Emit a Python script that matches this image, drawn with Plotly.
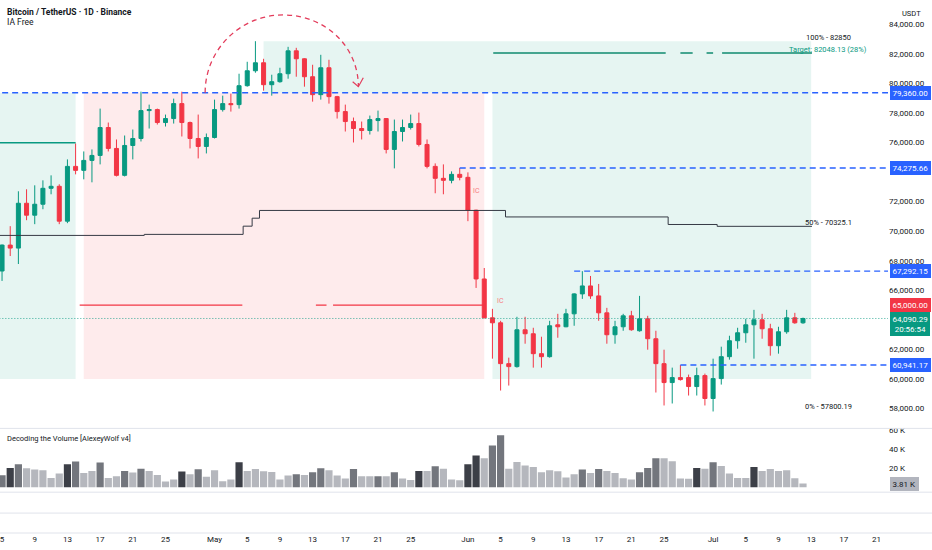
import pandas as pd
import plotly.graph_objects as go

# ---------------- data ----------------
base = pd.Timestamp("2024-04-01")
dates = pd.date_range("2024-04-05", "2024-07-12", freq="D")
xd = [(d - base).days for d in dates]

opens = [67304, 69056, 68854, 71887, 71078, 71820, 72898, 73033, 70674, 74381,
         74111, 74785, 75122, 77010, 75594, 73774, 75796, 76268, 78155, 78223,
         77347, 77616, 78627, 77347, 76268, 75729, 76335, 78223, 78627, 78560,
         79840, 80851, 81391, 79908, 80110, 80649, 82199, 81660, 80447, 79234,
         81054, 79099, 78088, 77414, 76942, 76807, 77481, 77616, 75527, 76740,
         77010, 77279, 75864, 74381, 73572, 73437, 73842, 73640, 71415, 66765,
         64136, 63799, 61036, 60834, 63327, 63058, 61710, 61508, 63664, 63530,
         64406, 65754, 66293, 65619, 64473, 62991, 63530, 64271, 63260, 64069,
         62721, 61036, 59755, 60092, 60092, 59486, 60227, 58677, 60025, 61508,
         62586, 63125, 63664, 64001, 63395, 62249, 63193, 64136, 63799]
highs = [69100, 70337, 72696, 72831, 73100, 73437, 73774, 73168, 74853, 75931,
         75392, 75527, 78290, 77347, 76201, 76470, 76875, 79436, 78560, 78290,
         77886, 78964, 79436, 77414, 77886, 76605, 78897, 79166, 79301, 80649,
         81458, 82850, 81660, 80582, 81054, 82469, 82402, 81700, 81256, 81930,
         81593, 79150, 78560, 77684, 77414, 77818, 78155, 77650, 77549, 77549,
         77886, 78020, 76201, 74583, 74516, 74044, 74275.66, 73977, 71450, 67506,
         64743, 63934, 61440, 64204, 64204, 63462, 62856, 63934, 64406, 64743,
         65800, 67292.15, 66967, 66428, 64810, 63934, 64406, 64608, 65619, 64271,
         63260, 61979, 60766, 60941.17, 60294, 60766, 60362, 61373, 62182, 62923,
         63462, 64069, 64675, 64406, 63732, 63530, 64675, 64473, 64150]
lows = [66630, 68315, 67776, 70741, 70472, 71483, 72494, 70472, 70539, 73842,
        73505, 73303, 74516, 75392, 73700, 73700, 74853, 76066, 76942, 77212,
        77077, 77279, 76403, 75594, 74920, 75257, 76268, 78088, 78088, 78290,
        79773, 80717, 79503, 79166, 80042, 80312, 80447, 79773, 78762, 78897,
        78627, 77616, 76740, 75999, 76201, 76538, 76740, 75257, 74246, 76066,
        76875, 75729, 74246, 72561, 72494, 73235, 73437, 70674, 66158, 64100,
        61373, 59216, 59553, 60766, 62384, 60766, 60766, 61440, 62788, 63500,
        63597, 65417, 65417, 63934, 62384, 62384, 63260, 63260, 63200, 61979,
        59081, 58205, 58340, 59890, 58879, 58879, 58205, 57800.19, 59620, 61306,
        62047, 62451, 61373, 62721, 61575, 61710, 63058, 63732, 63732]
closes = [69056, 68854, 71887, 71078, 71820, 72898, 73033, 70674, 74381, 74111,
          74785, 75122, 77010, 75594, 73774, 75796, 76268, 78155, 78223, 77347,
          77616, 78627, 77347, 76268, 75729, 76335, 78223, 78627, 78560, 79840,
          80851, 81391, 79908, 80110, 80649, 82199, 81660, 80447, 79234, 81054,
          79099, 78088, 77414, 76942, 76807, 77549, 77616, 75527, 76740, 77010,
          77279, 75864, 74381, 73572, 73437, 73842, 73640, 71415, 66765, 64136,
          63799, 61036, 60834, 63327, 63058, 61710, 61508, 63597, 63530, 64406,
          65754, 66293, 65619, 64473, 62991, 63530, 64271, 63327, 64069, 62721,
          61036, 59755, 60092, 59957, 59486, 60227, 58677, 60025, 61508, 62586,
          63125, 63664, 64001, 63395, 62249, 63193, 64136, 63799, 64090.29]

volumes_k = [12.6, 20.3, 24.2, 20.0, 18.6, 17.9, 9.8, 14.4, 24.2, 27.0,
             15.0, 17.2, 26.0, 9.8, 11.6, 17.2, 15.4, 19.6, 17.2, 13.0,
             6.0, 8.1, 16.5, 13.7, 19.0, 10.9, 17.9, 6.3, 8.1, 26.3,
             17.2, 19.3, 16.8, 16.1, 8.1, 12.3, 13.7, 13.0, 15.8, 20.0,
             17.9, 12.3, 9.1, 19.3, 11.6, 11.6, 11.6, 11.6, 15.8, 9.1,
             7.7, 17.2, 17.2, 22.1, 19.6, 8.1, 7.4, 24.2, 33.4, 30.5,
             43.9, 54.8, 19.6, 26.7, 22.8, 21.4, 15.8, 17.9, 16.8, 10.2,
             13.7, 18.6, 15.0, 19.3, 17.2, 15.0, 9.5, 8.1, 15.8, 20.3,
             30.5, 30.5, 27.4, 9.1, 8.8, 20.3, 19.6, 26.3, 22.5, 14.4,
             9.8, 9.8, 21.4, 17.2, 19.3, 17.2, 17.9, 9.5, 3.81]
volume_shades = list("MDMLLLLLDM" "LLMLLMLMLL" "LLDLMLLLLD" "LLLLLLMLMM"
                     "LLLMLLMLML" "LDLMLLLDDL" "MMLLLLLLLL" "LMLMLLLLMM"
                     "MLLLLDLMLL" "LLDLLLLLL")

tick_dates = ["2024-04-05", "2024-04-09", "2024-04-13", "2024-04-17", "2024-04-21",
              "2024-04-25", "2024-05-01", "2024-05-05", "2024-05-09", "2024-05-13",
              "2024-05-17", "2024-05-21", "2024-05-25", "2024-06-01", "2024-06-05",
              "2024-06-09", "2024-06-13", "2024-06-17", "2024-06-21", "2024-06-25",
              "2024-07-01", "2024-07-05", "2024-07-09", "2024-07-13", "2024-07-17",
              "2024-07-21"]
tick_labels = ["5", "9", "13", "17", "21", "25", "May", "5", "9", "13", "17", "21",
               "25", "Jun", "5", "9", "13", "17", "21", "25", "Jul", "5", "9", "13",
               "17", "21"]
tick_x = [(pd.Timestamp(t) - base).days for t in tick_dates]

# 74,000 and 64,000 sit under highlighted price labels, as in the reference
price_ticks = [58000, 60000, 62000, 66000, 68000, 70000, 72000, 76000, 78000,
               80000, 82000, 84000]

# levels
level_blue = [79360.00, 74275.66, 67292.15, 60941.17]
level_blue_start = ["2024-03-25", "2024-05-31", "2024-06-14", "2024-06-27"]
level_red = 65000.00
level_green_left = 75980
target_level = 82048.13
last_price = 64090.29
mid_dates_x = [0, 21.4, 33.5, 34.6, 35.5, 65.6, 85.5, 91.5, 103.1]
mid_values = [69710, 69780, 70337, 70876, 71400, 70960, 70450, 70325.1, 70325.1]

# zones (x in day index, y in price)
zone_top, zone_bottom, zone_high = 79360, 60000, 82850

GREEN = "#089981"
RED = "#f23645"
BLUE = "#2962ff"
TXT = "#131722"
FONT = "Roboto, 'Noto Sans', sans-serif"
shade_color = {"L": "#b5b7bd", "M": "#73767d", "D": "#3c3f47"}

X0, X1 = 3.75, 112.4
Y0, Y1 = 56655, 85502

fig = go.Figure()

# background zones
zones = [
    (-2, 13, zone_bottom, zone_top, "rgba(8,153,129,0.10)"),
    (14, 63, zone_bottom, zone_top, "rgba(242,54,69,0.10)"),
    (64, 103, zone_bottom, zone_top, "rgba(8,153,129,0.10)"),
    (36, 103, zone_top, zone_high, "rgba(8,153,129,0.10)"),
]
for a, b, lo, hi, col in zones:
    fig.add_shape(type="rect", xref="x", yref="y", x0=a, x1=b, y0=lo, y1=hi,
                  fillcolor=col, line_width=0, layer="below")

# green left line
fig.add_trace(go.Scatter(x=[0, 13], y=[level_green_left] * 2, mode="lines",
                         line=dict(color=GREEN, width=1.3), hoverinfo="skip"))
# red 65000 line segments
fig.add_trace(go.Scatter(x=[13.5, 33.4, None, 42.4, 43.7, None, 44.5, 63],
                         y=[level_red, level_red, None, level_red, level_red, None, level_red, level_red],
                         mode="lines", line=dict(color=RED, width=1.2), hoverinfo="skip"))
# target line segments
fig.add_trace(go.Scatter(x=[64.1, 85.2, None, 87, 88.5, None, 90.2, 91, None, 92.1, 103.1],
                         y=[target_level] * 2 + [None] + [target_level] * 2 + [None]
                           + [target_level] * 2 + [None] + [target_level] * 2,
                         mode="lines", line=dict(color="#0f8a6f", width=1.4), hoverinfo="skip"))
# mid step line
fig.add_trace(go.Scatter(x=mid_dates_x, y=mid_values, mode="lines", line_shape="hv",
                         line=dict(color="#363a45", width=1), hoverinfo="skip"))
# blue dashed levels
for lv, st in zip(level_blue, level_blue_start):
    sx = (pd.Timestamp(st) - base).days
    fig.add_trace(go.Scatter(x=[sx, 116], y=[lv, lv], mode="lines",
                             line=dict(color=BLUE, width=1.4, dash="6px,4px"), hoverinfo="skip"))
# last price dotted
fig.add_trace(go.Scatter(x=[0, 116], y=[last_price] * 2, mode="lines",
                         line=dict(color=GREEN, width=0.8, dash="1px,2px"), hoverinfo="skip"))

# candles
fig.add_trace(go.Candlestick(
    x=xd, open=opens, high=highs, low=lows, close=closes,
    increasing=dict(line=dict(color=GREEN, width=1), fillcolor=GREEN),
    decreasing=dict(line=dict(color=RED, width=1), fillcolor=RED),
    whiskerwidth=0, hoverinfo="skip", xaxis="x", yaxis="y"))

# volume
fig.add_trace(go.Bar(x=xd, y=volumes_k, marker=dict(color=[shade_color[s] for s in volume_shades],
                                                     line_width=0),
                     width=0.88, xaxis="x2", yaxis="y2", hoverinfo="skip"))

# curved arrow drawing
arc_path = ("M 28.85,79369 C 28.85,82267 33.13,84626 38.39,84626 "
            "C 43.6,84626 47.6,82469 47.6,79773")
fig.add_shape(type="path", xref="x", yref="y", path=arc_path,
              line=dict(color="#e33d5c", width=1.3, dash="5px,4px"))
fig.add_shape(type="path", xref="x", yref="y",
              path="M 46.9,80110 L 47.6,79773 L 48.2,80380",
              line=dict(color="#e33d5c", width=1.2))

# pane separators
for py in [0.197, 0.0769, 0.0375, 0.0]:
    fig.add_shape(type="line", xref="paper", yref="paper", x0=0, x1=1.05, y0=py, y1=py,
                  line=dict(color="#e0e3eb", width=1))

ann = []
# header
ann.append(dict(xref="paper", yref="paper", x=0.006, y=0.981, xanchor="left", yanchor="middle",
                text="<b>Bitcoin / TetherUS · 1D · Binance</b>", showarrow=False,
                font=dict(size=8.5, color=TXT)))
ann.append(dict(xref="paper", yref="paper", x=0.006, y=0.962, xanchor="left", yanchor="middle",
                text="IA Free", showarrow=False, font=dict(size=8.5, color=TXT)))
ann.append(dict(xref="paper", yref="paper", x=0.006, y=0.178, xanchor="left", yanchor="middle",
                text="Decoding the Volume [AlexeyWolf v4]", showarrow=False,
                font=dict(size=7.5, color=TXT)))
ann.append(dict(xref="paper", yref="paper", x=1, y=1, xanchor="left", yanchor="top",
                xshift=12, yshift=-5, text="USDT", showarrow=False, font=dict(size=7.5, color=TXT)))
# fib texts
ann += [
    dict(x=105.1, y=83075, text="100% - 82850", font=dict(size=7.5, color=TXT)),
    dict(x=105.1, y=82300, text="Target: 82048.13 (28%)", font=dict(size=7.5, color=GREEN)),
    dict(x=105.1, y=70607, text="50% - 70325.1", font=dict(size=7.5, color=TXT)),
    dict(x=105.1, y=58138, text="0% - 57800.19", font=dict(size=7.5, color=TXT)),
    dict(x=62.1, y=72696, text="IC", font=dict(size=7, color="#f77c80")),
    dict(x=64.95, y=65282, text="IC", font=dict(size=7, color="#f77c80")),
]
for a in ann[4:]:
    a.update(xref="x", yref="y", showarrow=False, xanchor="center", yanchor="middle")

# axis labels with backgrounds
def axis_label(y, text, bg, fg="white", yref="y", yanchor="middle", yshift=0):
    return dict(xref="paper", yref=yref, x=1, y=y, xanchor="left", yanchor=yanchor,
                xshift=2, yshift=yshift, text=text, showarrow=False, bgcolor=bg,
                bordercolor=bg, borderpad=1.5, font=dict(size=8, color=fg))

ann.append(axis_label(79360.00, "79,360.00", BLUE))
ann.append(axis_label(74275.66, "74,275.66", BLUE))
ann.append(axis_label(67292.15, "67,292.15", BLUE))
ann.append(axis_label(65000.00, "65,000.00", RED))
ann.append(axis_label(last_price, "64,090.29<br>20:56:54", GREEN, yanchor="top", yshift=6))
ann.append(axis_label(60941.17, "60,941.17", BLUE))
ann.append(axis_label(volumes_k[-1], "3.81 K", "#b2b5be", fg=TXT, yref="y2"))

fig.update_layout(
    width=932, height=550,
    margin=dict(l=0, r=44, t=0, b=17),
    paper_bgcolor="white", plot_bgcolor="white",
    showlegend=False, hovermode=False,
    font=dict(family=FONT, size=8, color=TXT),
    annotations=ann,
    xaxis=dict(domain=[0, 1], range=[X0, X1], anchor="y", showticklabels=False,
               showgrid=False, zeroline=False, rangeslider=dict(visible=False), fixedrange=True),
    xaxis2=dict(domain=[0, 1], range=[X0, X1], anchor="free", position=0,
                tickvals=tick_x, ticktext=tick_labels, ticks="", showgrid=False,
                ticklabeloverflow="allow",
                zeroline=False, showline=False, tickfont=dict(size=8, color=TXT)),
    yaxis=dict(domain=[0.197, 1], range=[Y0, Y1], side="right", anchor="x",
               tickvals=price_ticks, tickformat=",.2f", showgrid=False, zeroline=False,
               ticks="", tickfont=dict(size=8, color=TXT)),
    yaxis2=dict(domain=[0.0769, 0.197], range=[-5.26, 62.1], side="right", anchor="x2",
                tickvals=[20, 40, 60], ticktext=["20 K", "40 K", "60 K"], showgrid=False,
                zeroline=False, ticks="", tickfont=dict(size=8, color=TXT)),
)

fig.write_html("out.html", config={"displayModeBar": False},
               post_script="document.body.style.margin='0';document.body.style.overflow='hidden';")
